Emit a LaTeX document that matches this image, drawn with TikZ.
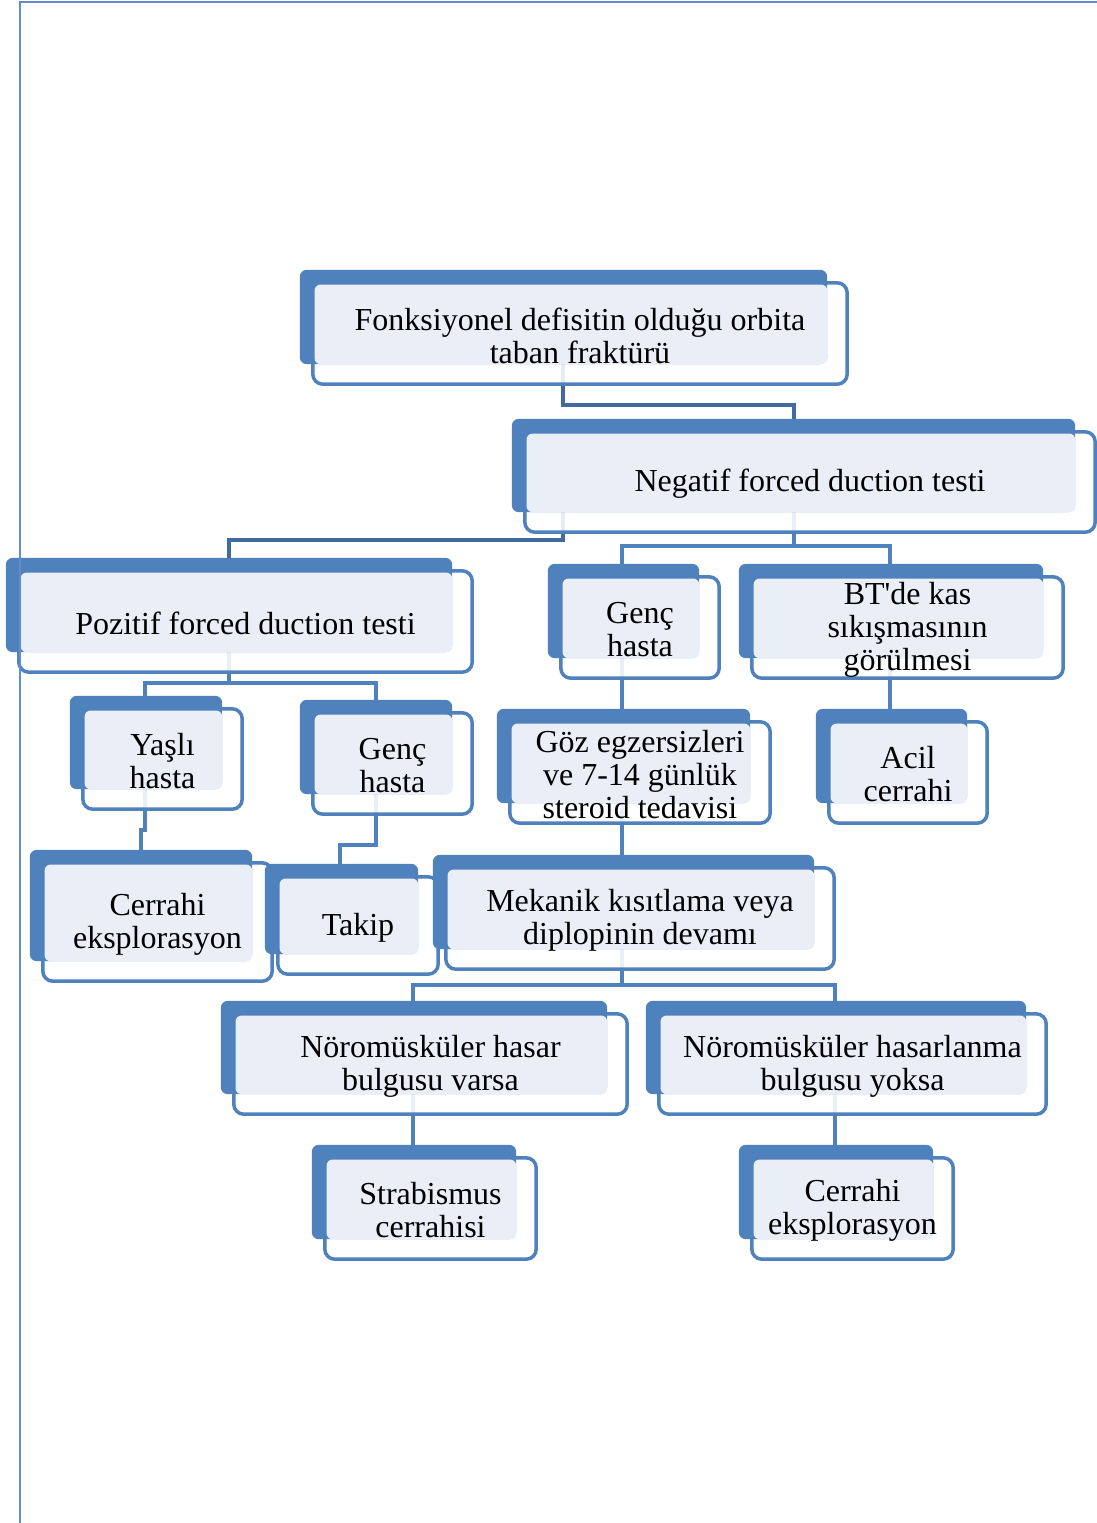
\documentclass[tikz,border=0pt]{standalone}
\usepackage{fontspec}
\setmainfont{Liberation Serif}
\usepackage{xcolor}
\usepackage{tikz}
\usetikzlibrary{positioning,calc}
\definecolor{boxblue}{RGB}{79,129,189}
\definecolor{linkblue}{RGB}{66,106,160}
\definecolor{panel}{RGB}{233,238,247}
\definecolor{pageline}{RGB}{98,140,206}
\pgfdeclarelayer{linklayer}
\pgfdeclarelayer{outlinelayer}
\pgfdeclarelayer{panellayer}
\pgfsetlayers{linklayer,outlinelayer,panellayer,main}
\tikzset{
    boxtext/.style={inner sep=0pt,align=center,text=black,font=\fontsize{32}{33}\selectfont},
    boxline/.style={draw=boxblue,line width=3.5pt,fill=white,fill opacity=0.88,rounded corners=10pt},
    boxback/.style={fill=boxblue,rounded corners=7pt},
    boxpanel/.style={fill=panel,rounded corners=6pt},
    link/.style={draw=boxblue,line width=4pt},
    linkdark/.style={draw=linkblue,line width=4pt},
}
% name, centre, width, height, text
\newcommand{\flowbox}[5]{%
  \node[inner sep=0pt,minimum width=#3pt,minimum height=#4pt] (#1) at (#2) {};
  \node[boxtext] (#1-txt) at ([yshift=-2pt]#1.center) {#5};
  \begin{pgfonlayer}{outlinelayer}
    \path[boxline] (#1.north west) rectangle (#1.south east);
  \end{pgfonlayer}
  \begin{pgfonlayer}{panellayer}
    \fill[boxback] ([shift={(-13pt,13pt)}]#1.north west) rectangle ([shift={(-20pt,20pt)}]#1.south east);
    \fill[boxpanel] ([shift={(1.75pt,-1.75pt)}]#1.north west) rectangle ([shift={(-20pt,20pt)}]#1.south east);
  \end{pgfonlayer}}

\begin{document}
\begin{tikzpicture}[x=1pt,y=-1pt]
\useasboundingbox (0,0) rectangle (1097,1523);
\draw[pageline,line width=1.5pt] (20,1523) -- (20,2) -- (1097,2);

\flowbox{root}{580,333.5}{534}{101}{Fonksiyonel defisitin olduğu orbita\\taban fraktürü}
\flowbox{neg}{810,482}{570}{100}{Negatif forced duction testi}
\flowbox{poz}{245.5,621.5}{453}{101}{Pozitif forced duction testi}
\flowbox{gencR}{640,627.5}{158}{101}{Genç\\hasta}
\flowbox{bt}{907.5,627.5}{311}{101}{BT\textquotesingle de kas\\sıkışmasının\\görülmesi}
\flowbox{yasli}{162.5,759}{159}{100}{Yaşlı\\hasta}
\flowbox{gencL}{392.5,763.5}{159}{101}{Genç\\hasta}
\flowbox{goz}{640,772.5}{260}{101}{Göz egzersizleri\\ve 7-14 günlük\\steroid tedavisi}
\flowbox{acil}{908,772.5}{158}{101}{Acil\\cerrahi}
\flowbox{explL}{157.5,922}{229}{118}{Cerrahi\\eksplorasyon}
\flowbox{takip}{358,925.5}{160}{97}{Takip}
\flowbox{mek}{640,918.5}{388}{101}{Mekanik kısıtlama veya\\diplopinin devamı}
\flowbox{noroA}{430.5,1064}{393}{100}{Nöromüsküler hasar\\bulgusu varsa}
\flowbox{noroB}{852.5,1064}{387}{100}{Nöromüsküler hasarlanma\\bulgusu yoksa}
\flowbox{strab}{430.5,1208.5}{211}{101}{Strabismus\\cerrahisi}
\flowbox{explR}{852.5,1208.5}{201}{101}{Cerrahi\\eksplorasyon}

\begin{pgfonlayer}{linklayer}
\draw[linkdark] ([xshift=-17pt]root.center) -- ++(0,71.5) -| ([xshift=-16pt]neg.center);
\draw[linkdark] ([xshift=-247pt]neg.center) -- ++(0,58) -| ([xshift=-16.5pt]poz.center);
\draw[link] ([xshift=-16pt]neg.center) -- ++(0,64) -| ([xshift=-18pt]gencR.center);
\draw[link] ([xshift=-16pt]neg.center) -- ++(0,64) -| ([xshift=-17.5pt]bt.center);
\draw[link] ([xshift=-16.5pt]poz.center) -- ++(0,61.5) -| ([xshift=-17.5pt]yasli.center);
\draw[link] ([xshift=-16.5pt]poz.center) -- ++(0,61.5) -| ([xshift=-16.5pt]gencL.center);
\draw[link] ([xshift=-17.5pt]yasli.center) -- ++(0,71) -| ([xshift=-16.5pt]explL.center);
\draw[link] ([xshift=-16.5pt]gencL.center) -- ++(0,81.5) -| ([xshift=-18pt]takip.center);
\draw[link] ([xshift=-18pt]gencR.center) -- ([xshift=-18pt]goz.center);
\draw[link] ([xshift=-17.5pt]bt.center) -- ([xshift=-18pt]acil.center);
\draw[link] ([xshift=-18pt]goz.center) -- ([xshift=-18pt]mek.center);
\draw[link] ([xshift=-18pt]mek.center) -- ++(0,66.5) -| ([xshift=-17.5pt]noroA.center);
\draw[link] ([xshift=-18pt]mek.center) -- ++(0,66.5) -| ([xshift=-17.5pt]noroB.center);
\draw[link] ([xshift=-17.5pt]noroA.center) -- ([xshift=-17.5pt]strab.center);
\draw[link] ([xshift=-17.5pt]noroB.center) -- ([xshift=-17.5pt]explR.center);
\end{pgfonlayer}
\end{tikzpicture}
\end{document}
